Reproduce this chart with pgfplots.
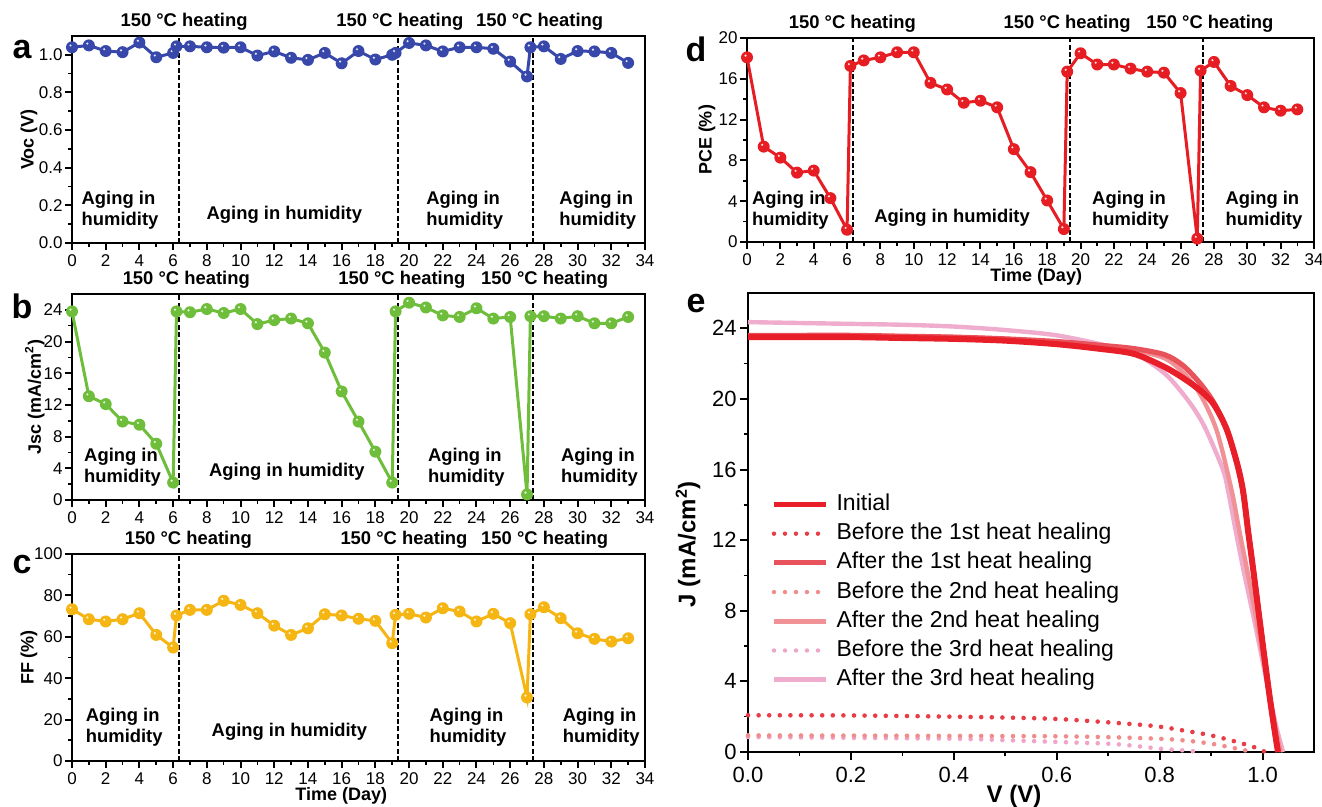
\documentclass[border=0pt]{standalone}
\usepackage{fontspec}
\setmainfont{Liberation Sans}
\usepackage{pgfplots}
\pgfplotsset{compat=1.18}
\definecolor{blueA}{RGB}{55,72,170}
\definecolor{greenB}{RGB}{110,190,60}
\definecolor{yellowC}{RGB}{245,182,20}
\definecolor{redD}{RGB}{230,30,35}
\definecolor{cInit}{RGB}{232,30,40}
\definecolor{cB1}{RGB}{232,60,70}
\definecolor{cA1}{RGB}{232,82,90}
\definecolor{cB2}{RGB}{240,140,140}
\definecolor{cA2}{RGB}{240,145,150}
\definecolor{cB3}{RGB}{240,165,200}
\definecolor{cA3}{RGB}{240,172,205}
\pgfdeclareplotmark{hl}{%
  \pgfpathcircle{\pgfpointorigin}{\pgfplotmarksize}\pgfusepathqfill
  \begin{pgfscope}%
  \pgfsetfillcolor{white}%
  \pgfsetfillopacity{0.85}%
  \pgfpathcircle{\pgfpoint{-0.25\pgfplotmarksize}{0.3\pgfplotmarksize}}{0.2\pgfplotmarksize}\pgfusepathqfill
  \end{pgfscope}}
\pgfplotsset{
  every axis/.append style={/pgf/number format/assume math mode=true},
  panel/.style={scale only axis, anchor=south west, width=286.5pt,
    xmin=0, xmax=34, xtick={0,2,...,34}, minor x tick num=1, minor y tick num=1,
    tick align=outside, xtick pos=left, ytick pos=left, clip=false,
    axis line style={line width=1.2pt},
    major tick style={line width=1pt, black}, minor tick style={line width=0.8pt, black},
    major tick length=3.5pt, minor tick length=2pt,
    tick label style={font=\fontsize{8.5}{10}\selectfont},
    xticklabel style={yshift=1pt},
    yticklabel style={inner sep=1pt},
    label style={font=\bfseries\fontsize{9}{11}\selectfont},
    ylabel style={anchor=center},
  },
  ser/.style={line width=1.5pt, color=#1, mark=hl, mark size=3pt, mark options={fill=#1, solid}},
}
\newcommand{\heat}{\bfseries\fontsize{9.2}{11}\selectfont}
\newcommand{\aging}{\bfseries\fontsize{9.2}{10.5}\selectfont}
\tikzset{vdash/.style={black, line width=1pt, dash pattern=on 2.5pt off 1.2pt}}
\begin{document}
\begin{tikzpicture}
\useasboundingbox (0,0) rectangle (661pt,403.5pt);
% ---------- a ----------
\begin{axis}[panel, at={(36pt,282pt)}, height=103.5pt, ymin=0, ymax=1.1,
  ytick={0,0.2,0.4,0.6,0.8,1.0},
  yticklabel style={/pgf/number format/.cd,fixed,fixed zerofill,precision=1},
  ylabel={Voc (V)}, ylabel style={at={(axis description cs:-0.075,0.5)}}]
\addplot[ser=blueA] coordinates {(0,1.04)(1,1.05)(2,1.02)(3,1.014)(4,1.065)(5,0.987)(6,1.01)(6.2,1.045)(7,1.045)(8,1.04)(9,1.038)(10,1.04)(11,0.996)(12,1.018)(13,0.984)(14,0.973)(15,1.01)(16,0.955)(17,1.02)(18,0.975)(19,1.0)(19.2,1.01)(20,1.063)(21,1.05)(22,1.018)(23,1.04)(24,1.04)(25,1.032)(26,0.964)(27,0.885)(27.2,1.04)(28,1.045)(29,0.978)(30,1.02)(31,1.018)(32,1.01)(33,0.957)};
\draw[vdash] (axis cs:6.35,0) -- (axis cs:6.35,1.1);
\draw[vdash] (axis cs:19.35,0) -- (axis cs:19.35,1.1);
\draw[vdash] (axis cs:27.35,0) -- (axis cs:27.35,1.1);
\node[font=\heat, anchor=base, yshift=4.5pt] at (axis cs:6.65,1.1) {150 °C heating};
\node[font=\heat, anchor=base, yshift=4.5pt] at (axis cs:19.45,1.1) {150 °C heating};
\node[font=\heat, anchor=base, yshift=4.5pt] at (axis cs:27.75,1.1) {150 °C heating};
\node[font=\aging, align=left] at (axis cs:2.85,0.176) {Aging in\\humidity};
\node[font=\aging] at (axis cs:12.6,0.149) {Aging in humidity};
\node[font=\aging, align=left] at (axis cs:23.3,0.176) {Aging in\\humidity};
\node[font=\aging, align=left] at (axis cs:31.2,0.176) {Aging in\\humidity};
\end{axis}
% ---------- b ----------
\begin{axis}[panel, at={(36pt,153.5pt)}, height=103pt, ymin=0, ymax=26,
  ytick={0,4,...,24},
  ylabel={Jsc (mA/cm\textsuperscript{2})}, ylabel style={at={(axis description cs:-0.065,0.5)}}]
\addplot[ser=greenB] coordinates {(0,23.8)(1,13.1)(2,12.1)(3,9.9)(4,9.5)(5,7.1)(6,2.2)(6.2,23.8)(7,23.7)(8,24.1)(9,23.6)(10,24.1)(11,22.2)(12,22.7)(13,22.9)(14,22.3)(15,18.6)(16,13.7)(17,9.9)(18,6.1)(19,2.2)(19.2,23.8)(20,24.9)(21,24.3)(22,23.3)(23,23.1)(24,24.2)(25,22.9)(26,23.1)(27,0.7)(27.2,23.2)(28,23.2)(29,22.9)(30,23.2)(31,22.3)(32,22.3)(33,23.1)};
\draw[vdash] (axis cs:6.35,0) -- (axis cs:6.35,26);
\draw[vdash] (axis cs:19.35,0) -- (axis cs:19.35,26);
\draw[vdash] (axis cs:27.35,0) -- (axis cs:27.35,26);
\node[font=\heat, anchor=base, yshift=4.5pt] at (axis cs:6.78,26) {150 °C heating};
\node[font=\heat, anchor=base, yshift=4.5pt] at (axis cs:19.57,26) {150 °C heating};
\node[font=\heat, anchor=base, yshift=4.5pt] at (axis cs:28.05,26) {150 °C heating};
\node[font=\aging, align=left] at (axis cs:3.0,4.1) {Aging in\\humidity};
\node[font=\aging] at (axis cs:12.75,3.55) {Aging in humidity};
\node[font=\aging, align=left] at (axis cs:23.4,4.1) {Aging in\\humidity};
\node[font=\aging, align=left] at (axis cs:31.3,4.1) {Aging in\\humidity};
\end{axis}
% ---------- c ----------
\begin{axis}[panel, at={(36pt,23pt)}, height=103.5pt, ymin=0, ymax=100,
  ytick={0,20,...,100},
  ylabel={FF (\%)}, ylabel style={at={(axis description cs:-0.075,0.5)}},
  xlabel={Time (Day)}, xlabel style={at={(axis description cs:0.47,0)}, anchor=center, yshift=-17.5pt}]
\addplot[ser=yellowC] coordinates {(0,73.3)(1,68.5)(2,67.4)(3,68.5)(4,71.4)(5,60.9)(6,54.8)(6.2,70.3)(7,73.0)(8,73.0)(9,77.4)(10,75.4)(11,71.4)(12,65.4)(13,60.9)(14,64.1)(15,70.9)(16,70.3)(17,68.7)(18,67.7)(19,56.9)(19.2,70.6)(20,71.1)(21,69.3)(22,73.8)(23,72.2)(24,67.4)(25,71.1)(26,66.6)(27,30.7)(27.2,70.9)(28,74.3)(29,69.0)(30,61.7)(31,59.0)(32,57.7)(33,59.3)};
\draw[vdash] (axis cs:6.35,0) -- (axis cs:6.35,100);
\draw[vdash] (axis cs:19.35,0) -- (axis cs:19.35,100);
\draw[vdash] (axis cs:27.35,0) -- (axis cs:27.35,100);
\node[font=\heat, anchor=base, yshift=4.5pt] at (axis cs:6.9,100) {150 °C heating};
\node[font=\heat, anchor=base, yshift=4.5pt] at (axis cs:19.7,100) {150 °C heating};
\node[font=\heat, anchor=base, yshift=4.5pt] at (axis cs:28.05,100) {150 °C heating};
\node[font=\aging, align=left] at (axis cs:3.1,16.2) {Aging in\\humidity};
\node[font=\aging] at (axis cs:12.9,14) {Aging in humidity};
\node[font=\aging, align=left] at (axis cs:23.5,16.2) {Aging in\\humidity};
\node[font=\aging, align=left] at (axis cs:31.4,16.2) {Aging in\\humidity};
\end{axis}
% ---------- d ----------
\begin{axis}[panel, at={(373.5pt,282.5pt)}, width=283.5pt, height=102pt, ymin=0, ymax=20,
  ytick={0,4,...,20},
  ylabel={PCE (\%)}, ylabel style={at={(axis description cs:-0.0705,0.5)}},
  xlabel={Time (Day)}, xlabel style={at={(axis description cs:0.51,0)}, anchor=center, yshift=-17.5pt}]
\addplot[ser=redD] coordinates {(0,18.1)(1,9.35)(2,8.27)(3,6.8)(4,7.0)(5,4.3)(6,1.2)(6.2,17.26)(7,17.8)(8,18.1)(9,18.6)(10,18.6)(11,15.6)(12,14.95)(13,13.65)(14,13.85)(15,13.2)(16,9.1)(17,6.85)(18,4.07)(19,1.27)(19.2,16.7)(20,18.5)(21,17.4)(22,17.4)(23,17.0)(24,16.7)(25,16.6)(26,14.6)(27,0.33)(27.2,16.8)(28,17.65)(29,15.3)(30,14.4)(31,13.2)(32,12.87)(33,13.0)};
\draw[vdash] (axis cs:6.35,0) -- (axis cs:6.35,20);
\draw[vdash] (axis cs:19.35,0) -- (axis cs:19.35,20);
\draw[vdash] (axis cs:27.35,0) -- (axis cs:27.35,20);
\node[font=\heat, anchor=base, yshift=4.5pt] at (axis cs:6.32,20) {150 °C heating};
\node[font=\heat, anchor=base, yshift=4.5pt] at (axis cs:19.2,20) {150 °C heating};
\node[font=\heat, anchor=base, yshift=4.5pt] at (axis cs:27.76,20) {150 °C heating};
\node[font=\aging, align=left] at (axis cs:2.6,3.14) {Aging in\\humidity};
\node[font=\aging] at (axis cs:12.3,2.4) {Aging in humidity};
\node[font=\aging, align=left] at (axis cs:23.0,3.14) {Aging in\\humidity};
\node[font=\aging, align=left] at (axis cs:31.0,3.14) {Aging in\\humidity};
\end{axis}
% ---------- e ----------
\begin{axis}[scale only axis, anchor=south west, at={(374pt,27.5pt)}, width=283pt, height=229.5pt,
  xmin=0, xmax=1.1, ymin=0, ymax=26, clip=false,
  xtick={0,0.2,0.4,0.6,0.8,1.0}, ytick={0,4,...,24},
  minor x tick num=1, minor y tick num=1,
  tick align=outside, xtick pos=left, ytick pos=left,
  axis line style={line width=1.2pt},
  major tick style={line width=1pt, black}, minor tick style={line width=0.8pt, black},
  major tick length=4pt, minor tick length=2.2pt,
  xticklabel style={/pgf/number format/.cd,fixed,fixed zerofill,precision=1},
  yticklabel style={inner sep=1.5pt},
  tick label style={font=\fontsize{11}{13}\selectfont},
  label style={font=\bfseries\fontsize{12}{14}\selectfont},
  xlabel={V (V)}, xlabel style={at={(axis description cs:0.47,0)}, anchor=center, yshift=-22pt},
  ylabel={J (mA/cm\textsuperscript{2})}, ylabel style={at={(axis description cs:-0.106,0.453)}, anchor=center},
  legend style={at={(axis description cs:0.03,0.575)}, anchor=north west, draw=none, fill=none,
    font=\fontsize{11.5}{13}\selectfont, nodes={inner sep=0pt, text height=9pt, text depth=3pt},
    row sep=2.6pt, column sep=4pt},
  legend cell align=left,
  legend image code/.code={\draw[#1] (0pt,0pt) -- (26pt,0pt);},
]
\addlegendimage{cInit, line width=2.6pt}
\addlegendentry{Initial}
\addlegendimage{cB1, line width=2.2pt, line cap=round, dash pattern=on 0pt off 5.5pt}
\addlegendentry{Before the 1st heat healing}
\addlegendimage{cA1, line width=2.6pt}
\addlegendentry{After the 1st heat healing}
\addlegendimage{cB2, line width=2.2pt, line cap=round, dash pattern=on 0pt off 5.5pt}
\addlegendentry{Before the 2nd heat healing}
\addlegendimage{cA2, line width=2.6pt}
\addlegendentry{After the 2nd heat healing}
\addlegendimage{cB3, line width=2.2pt, line cap=round, dash pattern=on 0pt off 5.5pt}
\addlegendentry{Before the 3rd heat healing}
\addlegendimage{cA3, line width=2.6pt}
\addlegendentry{After the 3rd heat healing}
% dotted curves
\addplot[forget plot, cB3, line width=2.3pt, line cap=round, dash pattern=on 0pt off 5.3pt, smooth] coordinates {(0,0.85)(0.2,0.8)(0.4,0.75)(0.5,0.67)(0.6,0.57)(0.7,0.47)(0.75,0.35)(0.8,0.19)(0.85,0.08)(0.88,0.0)};
\addplot[forget plot, cB2, line width=2.3pt, line cap=round, dash pattern=on 0pt off 5.3pt, smooth] coordinates {(0,0.94)(0.2,0.93)(0.4,0.91)(0.6,0.89)(0.7,0.84)(0.8,0.75)(0.85,0.65)(0.9,0.47)(0.95,0.19)(0.98,0.0)};
\addplot[forget plot, cB1, line width=2.3pt, line cap=round, dash pattern=on 0pt off 5.3pt, smooth] coordinates {(0,2.08)(0.2,2.07)(0.4,2.0)(0.5,1.95)(0.6,1.87)(0.7,1.68)(0.79,1.47)(0.85,1.2)(0.9,0.94)(0.95,0.57)(0.988,0.23)(1.005,0.0)};
% solid curves
\addplot[forget plot, cA3, line width=2.2pt, smooth, tension=0.5] coordinates {(0,24.35)(0.1,24.3)(0.2,24.25)(0.3,24.2)(0.4,24.1)(0.5,23.9)(0.6,23.6)(0.7,23.0)(0.75,22.6)(0.781,22.07)(0.815,21.3)(0.845,20.3)(0.87,19.3)(0.891,18.2)(0.923,16.0)(0.933,14.8)(0.948,12.5)(0.963,10.3)(0.98,8)(0.997,5.6)(1.012,3.4)(1.027,1.4)(1.04,0)};
\addplot[forget plot, cA2, line width=2.2pt, smooth, tension=0.5] coordinates {(0,23.6)(0.1,23.6)(0.2,23.6)(0.3,23.55)(0.4,23.5)(0.5,23.4)(0.6,23.2)(0.68,23.0)(0.75,22.75)(0.81,22.3)(0.845,21.5)(0.878,20.3)(0.911,18.2)(0.94,14.8)(0.955,12.5)(0.97,10.3)(0.985,8)(1.0,5.5)(1.013,3.3)(1.025,1.4)(1.035,0)};
\addplot[forget plot, cA1, line width=2.6pt, smooth, tension=0.5] coordinates {(0,23.6)(0.1,23.6)(0.2,23.6)(0.3,23.55)(0.4,23.5)(0.5,23.4)(0.6,23.25)(0.68,23.05)(0.75,22.85)(0.81,22.5)(0.845,21.9)(0.878,20.9)(0.905,19.8)(0.93,18.3)(0.95,16.4)(0.962,14.8)(0.972,12.5)(0.982,10.3)(0.992,8)(1.003,5.5)(1.013,3.3)(1.022,1.5)(1.03,0)};
\addplot[forget plot, cInit, line width=3pt, smooth, tension=0.5] coordinates {(0,23.5)(0.1,23.5)(0.2,23.5)(0.3,23.45)(0.4,23.4)(0.5,23.3)(0.6,23.1)(0.68,22.85)(0.75,22.55)(0.81,21.8)(0.85,21.1)(0.88,20.45)(0.905,19.7)(0.93,18.3)(0.95,16.4)(0.962,14.8)(0.972,12.5)(0.982,10.3)(0.992,8)(1.003,5.5)(1.013,3.3)(1.022,1.5)(1.03,0)};
\end{axis}
% panel letters
\node[font=\bfseries\fontsize{17}{17}\selectfont] at (11pt,378.5pt) {a};
\node[font=\bfseries\fontsize{17}{17}\selectfont] at (11pt,250.5pt) {b};
\node[font=\bfseries\fontsize{17}{17}\selectfont] at (11pt,121pt) {c};
\node[font=\bfseries\fontsize{17}{17}\selectfont] at (348pt,379pt) {d};
\node[font=\bfseries\fontsize{17}{17}\selectfont] at (348pt,251.5pt) {e};
\end{tikzpicture}
\end{document}
